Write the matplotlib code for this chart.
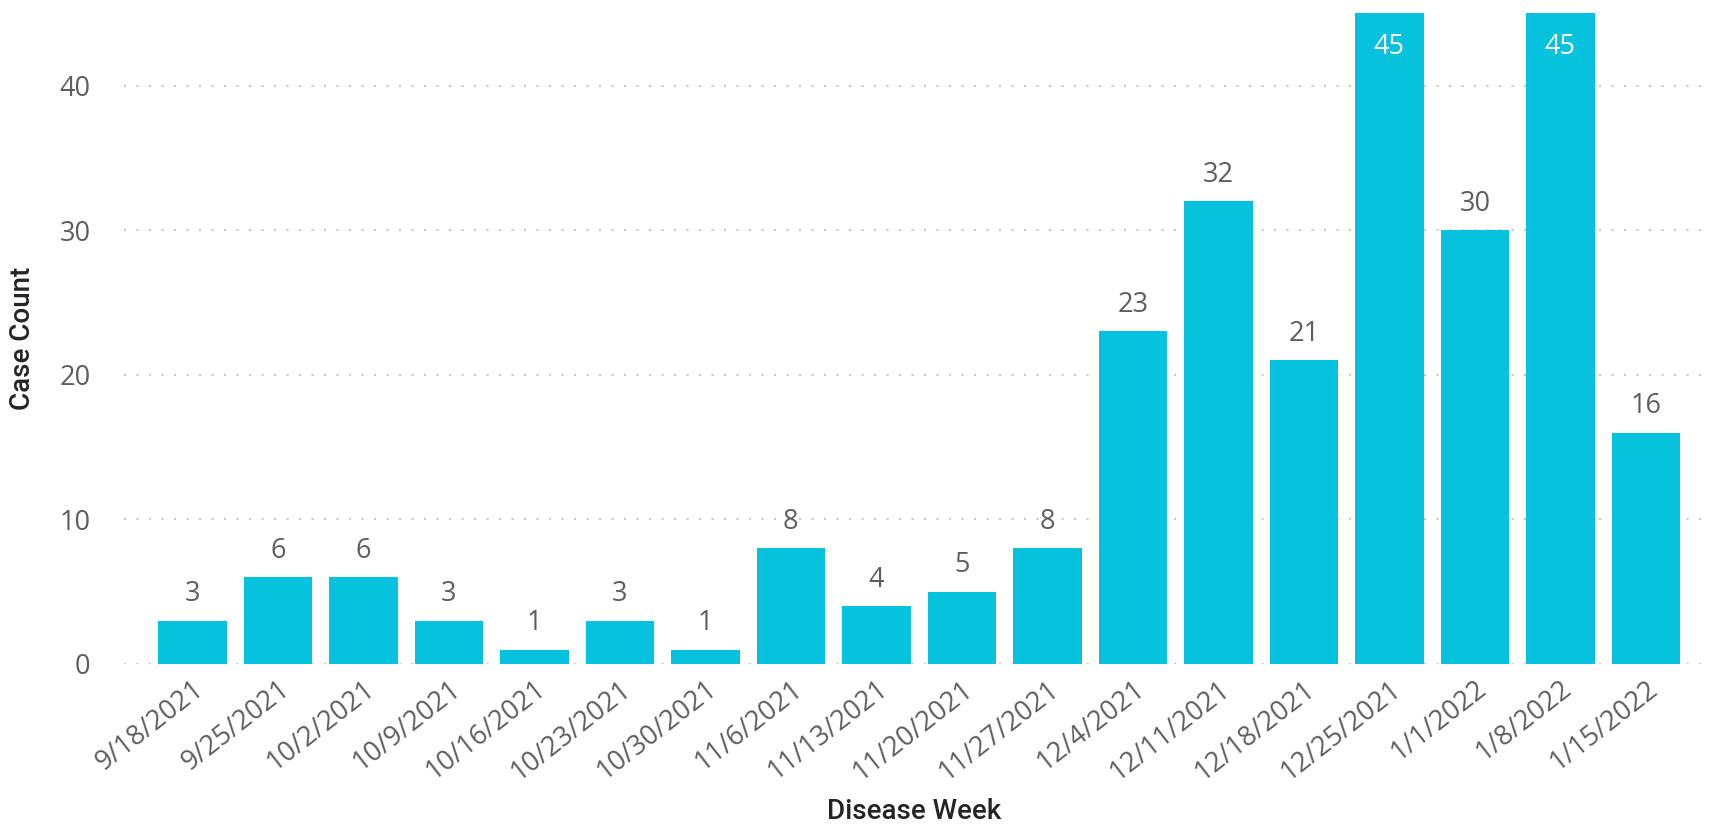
import matplotlib.pyplot as plt

weeks = ['9/18/2021', '9/25/2021', '10/2/2021', '10/9/2021', '10/16/2021',
         '10/23/2021', '10/30/2021', '11/6/2021', '11/13/2021', '11/20/2021',
         '11/27/2021', '12/4/2021', '12/11/2021', '12/18/2021', '12/25/2021',
         '1/1/2022', '1/8/2022', '1/15/2022']
cases = [3, 6, 6, 3, 1, 3, 1, 8, 4, 5, 8, 23, 32, 21, 45, 30, 45, 16]
y_ticks = [0, 10, 20, 30, 40]

bar_color = '#07C2DF'
text_gray = '#605E5C'
title_color = '#252423'

fig = plt.figure(figsize=(17.24, 8.24), dpi=100)
ax = fig.add_axes([0.0719, 0.1942, 0.9165, 0.7912])

x = list(range(len(weeks)))
bars = ax.bar(x, cases, width=0.8, color=bar_color, zorder=2)

ax.set_xlim(-0.8, len(weeks) - 1 + 0.68)
ax.set_ylim(0, 45.1)
ax.set_yticks(y_ticks)
ax.set_yticklabels([str(v) for v in y_ticks], fontsize=19.5, color=text_gray,
                   family='Open Sans')
ax.set_xticks(x)
ax.set_xticklabels(weeks, rotation=38, ha='right', rotation_mode='anchor',
                   fontsize=19.5, color=text_gray, family='Open Sans')
ax.tick_params(axis='both', length=0)
ax.tick_params(axis='y', pad=24)
ax.tick_params(axis='x', pad=8)

for s in ax.spines.values():
    s.set_visible(False)

for v in y_ticks:
    ax.axhline(v, color='#C8C8C8', linewidth=1.5, linestyle=(0, (1, 5)), zorder=1)

# data labels: outside the bar, or inside at the top when the bar hits the top
for xi, v in zip(x, cases):
    if v >= 45:
        ax.annotate(str(v), (xi, v), xytext=(0, -14), textcoords='offset points',
                    ha='center', va='top', fontsize=19.5, color='white',
                    family='Open Sans')
    else:
        ax.annotate(str(v), (xi, v), xytext=(0, 9), textcoords='offset points',
                    ha='center', va='bottom', fontsize=19.5, color=text_gray,
                    family='Open Sans')

ax.set_ylabel('Case Count', fontsize=20, color=title_color, family='Roboto',
              fontweight='medium', va='center')
ax.yaxis.set_label_coords(-0.064, 0.5)
ax.set_xlabel('Disease Week', fontsize=20, color=title_color, family='Roboto',
              fontweight='medium', va='center')
ax.xaxis.set_label_coords(0.5, -0.227)

fig.savefig('out.png', dpi=100)
